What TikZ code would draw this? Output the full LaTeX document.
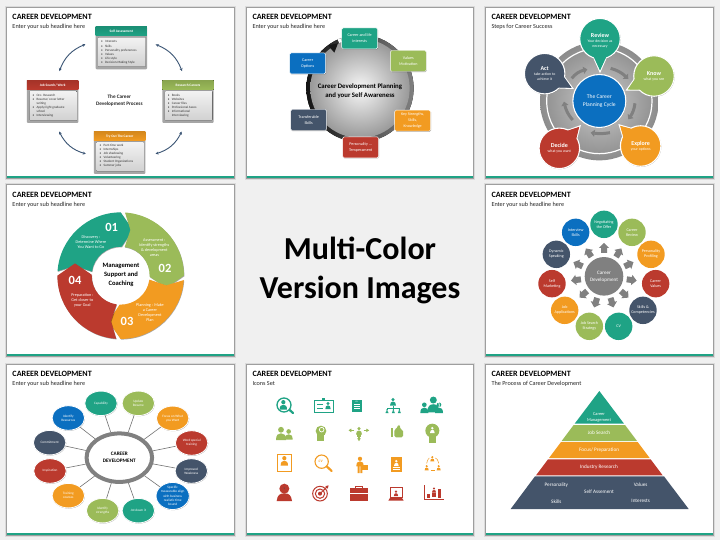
\documentclass[tikz,border=0pt]{standalone}
\usepackage{fontspec}
\setmainfont{Carlito}
\usetikzlibrary{arrows.meta,calc,shapes.geometric,shapes.arrows,shadows,bending}
\definecolor{tealc}{HTML}{1FA385}
\definecolor{olivec}{HTML}{9BBB59}
\definecolor{orangec}{HTML}{F29B21}
\definecolor{redc}{HTML}{BB3A2E}
\definecolor{navyc}{HTML}{44546A}
\definecolor{bluec}{HTML}{0B6FC0}
\definecolor{arrowc}{HTML}{3B5575}
\newcommand\fs[2]{\fontsize{#1}{#2}\selectfont}
\newcommand\bul{\makebox[4pt][l]{\textbullet}}
\newcommand\cnt{\hspace*{4pt}}
\tikzset{
  lbl/.style={inner sep=0pt,align=center,text=white,font=\fs{4.2}{5}},
  head/.style={inner sep=0pt,anchor=west,font=\bfseries\fs{8.1}{9},text=black},
  subh/.style={inner sep=0pt,anchor=west,font=\fs{6.2}{7},text=black!85},
  zoomed/.style={x=0.33333pt,y=-0.33333pt},
  cyc/.style={draw=arrowc,line width=0.9pt,{Stealth[length=3pt,width=3pt]}-{Stealth[length=3pt,width=3pt]}},
  softsh/.style={drop shadow={shadow xshift=0.4pt,shadow yshift=-0.6pt,opacity=0.35,fill=black}},
  rbox/.style={rounded corners=1.5pt,minimum width=36pt,minimum height=21pt,draw=white,line width=0.4pt,inner sep=0pt,align=center,text=white,font=\fs{4.1}{6.2},softsh},
  bub5/.style={circle,minimum size=27.4pt,inner sep=0pt,align=center,text=white,font=\fs{4.05}{5}},
  bub6/.style={ellipse,minimum width=32.5pt,minimum height=24.5pt,inner sep=0pt,draw=white,line width=0.8pt,align=center,text=white,font=\fs{3.4}{4.2},softsh},
  thickarc/.style={draw=black!50,line width=3pt,-{Triangle[length=4pt,width=7pt,flex]}},
  spoke/.style={draw=black!55,line width=0.6pt},
}
% panel frame
\newcommand\panel[4]{%
  \fill[black!14] (#1-2.2,#2-2.2) rectangle (#3+2.2,#4+2.2);
  \fill[black!38] (#1-1,#2-1) rectangle (#3+1,#4+1);
  \fill[white] (#1,#2) rectangle (#3,#4);
  \fill[tealc] (#1,#4-2) rectangle (#3,#4);}
% box of panel 1
\newcommand\cbox[7]{%
  \node[rounded corners=1pt,fill=black!35,minimum width=51.4pt,minimum height={(#5-#3)/3*1pt},inner sep=0pt] (#1) at ({#2+77},{(#3+#5)/2}) {};
  \fill[rounded corners=0.8pt,top color=black!5,bottom color=black!18] (#2+8,#4+4) rectangle (#2+150,#5-8);
  \fill[top color=#6!88!black,bottom color=#6] (#2,#3) rectangle (#2+154,#4);
  \node[lbl,font=\bfseries\fs{3.5}{4}] (#1t) at ({#2+77},{(#3+#4)/2}) {#7};}
\newcommand\citems[3]{\node[inner sep=0pt,anchor=north west,align=left,text=black!80,font=\fs{3.3}{4.1}] (#3) at (#1) {#2};}
% bubble with a tail
\newcommand\tailbub[7]{%
  \coordinate (#1c) at (#2,#3);
  \coordinate (#1tip) at (#5);
  \filldraw[draw=white,line width=1.3pt,fill=#4] ($(#1c)!18pt!24:(#1tip)$) -- (#1tip) -- ($(#1c)!18pt!-24:(#1tip)$) -- cycle;
  \node[circle,minimum size=40.5pt,inner sep=0pt,draw=white,line width=1.1pt,fill=#4,align=center,text=white,font=\fs{3.85}{5.1},softsh] (#1) at (#1c) {#6\\#7};
  \filldraw[draw=none,fill=#4] ($(#1c)!18pt!23:(#1tip)$) -- ($(#1tip)!1.2pt!(#1c)$) -- ($(#1c)!18pt!-23:(#1tip)$) -- cycle;}
\newcommand\bt[1]{{\bfseries\fs{6}{7}#1}}
% small person icon
\newcommand\pers[4]{\begin{scope}[shift={(#1,#2)},scale=#3]
  \fill[#4] (0,-1.05) circle[radius=.58];
  \fill[#4] (-1,1) .. controls (-1,0) and (-.6,-.35) .. (0,-.35) .. controls (.6,-.35) and (1,0) .. (1,1) -- cycle;
\end{scope}}
\begin{document}
\begin{tikzpicture}[x=1pt,y=-1pt]
\useasboundingbox (0,0) rectangle (720,540);
\fill[black!6] (0,0) rectangle (720,540);
\panel{7}{8}{234}{178}\panel{247}{8}{473}{178}\panel{486}{8}{713}{178}
\panel{7}{185}{234}{356}\panel{486}{185}{713}{356}
\panel{7}{365}{234}{535}\panel{247}{365}{473}{535}\panel{486}{365}{713}{535}
% titles
\foreach \xx/\yy/\sub [count=\i] in {12.3/17/Enter your sub headline here,252.3/17/Enter your sub headline here,491.3/17/Steps for Career Success,12.3/195/Enter your sub headline here,491.3/195/Enter your sub headline here,12.3/374/Enter your sub headline here,252.3/374/Icons Set,491.3/374/The Process of Career Development}{
  \node[head] (title\i) at (\xx,\yy) {CAREER DEVELOPMENT};
  \node[subh] (sub\i) at (\xx,\yy+10) {\sub};
}
% centre text
\node[inner sep=0pt,align=center,font=\bfseries\fs{32}{39},text=black] (multi) at (360,270) {Multi-Color\\Version Images};
%
% PANEL 1
\begin{scope}[shift={(0,0)},zoomed]
\cbox{sa}{287}{80}{108}{208}{tealc}{Self Assessment}
\citems{303,122}{\bul Interests\\\bul Skills\\\bul Personality preferences\\\bul Values\\\bul Life style\\\bul Decision-Making Style}{sai}
\cbox{rc}{487}{241}{269}{369}{olivec}{Research Careers}
\citems{503,282}{\bul Books\\\bul Websites\\\bul Career files\\\bul Professional Assoc.\\\bul Informational\\\cnt Interviewing}{rci}
\cbox{js}{81}{241}{269}{369}{redc}{Job Search/ Work}
\citems{97,282}{\bul Occ. Research\\\bul Resume/ cover letter\\\cnt writing\\\bul Apply/right graduate\\\cnt school\\\bul Interviewing}{jsi}
\cbox{to}{282}{395}{422}{522}{orangec}{Try Out The Career}
\citems{298,432}{\bul Part-time work\\\bul Internships\\\bul Job shadowing\\\bul Volunteering\\\bul Student Organizations\\\bul Summer jobs}{toi}
\node[inner sep=0pt,align=center,text=black!85,font=\bfseries\fs{5.2}{7.3}] (cdp) at (358,301) {The Career\\Development Process};
\draw[cyc] ([xshift=-10pt,yshift=3.7pt]sa.west) to[bend right=25] ([xshift=6.7pt,yshift=9pt]js.north);
\draw[cyc] ([xshift=8.5pt,yshift=3.5pt]sa.east) to[bend left=25] ([xshift=-6pt,yshift=9pt]rc.north);
\draw[cyc] ([xshift=6.5pt,yshift=-8.3pt]js.south) to[bend right=25] ([xshift=-8pt,yshift=-1pt]to.west);
\draw[cyc] ([xshift=-6.3pt,yshift=-8.3pt]rc.south) to[bend left=25] ([xshift=10pt,yshift=-1pt]to.east);
\end{scope}
%
% PANEL 2
\begin{scope}[shift={(240,0)},zoomed]
\fill[left color=black!92,right color=black!50] (360,265) circle[radius=161];
\draw[white,line width=3pt] (302,128) -- (297,116);
\shade[inner color=black!3,outer color=black!40] (360,265) circle[radius=149];
\fill[black!90] (294,130) -- (264,136) -- (283,158) -- cycle;
\node[inner sep=0pt,align=center,text=black,font=\bfseries\fs{6.8}{9}] (cdplan) at (360,272) {Career Development Planning\\and your Self Awareness};
\node[rbox,fill=tealc] (b1) at (359,115) {Career and life\\interests};
\node[rbox,fill=olivec] (b2) at (505,183) {Values\\Motivation};
\node[rbox,fill=orangec,font=\fs{4}{6}] (b3) at (518,362) {Key Strengths,\\Skills,\\Knowledge};
\node[rbox,fill=redc] (b4) at (362,442) {Personality ...\\Temperament};
\node[rbox,fill=navyc] (b5) at (206,360) {Transferable\\Skills};
\node[rbox,fill=bluec] (b6) at (203,190) {Career\\Options};
\end{scope}
%
% PANEL 3
\begin{scope}[shift={(480,0)},zoomed]
\shade[inner color=black!20,outer color=black!45] (358,303) circle[radius=178];
\shade[inner color=black!20,outer color=black!42] (358,303) circle[radius=157];
\draw[white,line width=1.2pt] (358,303) circle[radius=158];
\foreach \ax/\ay/\bx/\by/\bd in {275/235/322/208/20,392/205/445/237/15,465/310/445/358/15,390/398/332/398/10,278/360/252/305/15}{
  \draw[thickarc] (\ax,\ay) to[bend left=\bd] (\bx,\by);
}
\tailbub{rev}{360}{116}{tealc}{360,215}{\bt{\rule{0pt}{9pt}Review}}{Your decision as\\necessary}
\tailbub{kno}{522}{228}{olivec}{440,270}{\bt{Know}}{what you see}
\tailbub{exp}{482}{438}{orangec}{418,375}{\bt{Explore}}{your options}
\tailbub{dec}{238}{445}{redc}{300,378}{\bt{Decide}}{what you want}
\tailbub{act}{194}{221}{navyc}{278,265}{\bt{Act}}{take action to\\achieve it}
\node[circle,fill=bluec,draw=white,line width=1.1pt,minimum size=53pt,inner sep=0pt,align=center,text=white,font=\fs{5.6}{7.6},softsh] (cycle) at (358,303) {The Career\\Planning Cycle};
\end{scope}
%
% PANEL 4
\begin{scope}[shift={(0,180)},zoomed]
\begin{scope}[shift={(362,287)},x=1pt,y=1pt]
\foreach \k/\cc in {0/tealc,1/olivec,2/orangec,3/redc}{
 \begin{scope}[rotate=-90*\k]
  \fill[\cc,softsh] (176:63.3pt) arc[start angle=176,end angle=90,radius=63.3pt] -- (75:47.3pt) -- (88:29pt) arc[start angle=88,end angle=172,radius=29pt] -- (168:46.7pt) -- cycle;
 \end{scope}
}
\end{scope}
\foreach \xx/\yy/\nn [count=\i] in {335/142/01,495/265/02,381/425/03,225/302/04}{
  \node[lbl,font=\bfseries\fs{12.5}{14}] (num\i) at (\xx,\yy) {\nn};
}
\node[lbl] (t1) at (273,186) {Discovery :\\Determine Where\\You Want to Go};
\node[lbl] (t2) at (463,202) {Assessment :\\Identify strengths\\\& development\\areas};
\node[lbl] (t3) at (450,399) {Planning : Make\\a Career\\Development\\Plan};
\node[lbl] (t4) at (247,362) {Preparation :\\Get closer to\\your Goal};
\node[lbl,text=black,font=\bfseries\fs{6.6}{9}] (mgmt) at (363,284) {Management\\Support and\\Coaching};
\end{scope}
%
% PANEL 5
\begin{scope}[shift={(480,180)},zoomed]
\node[circle,fill=black!50,minimum size=38.6pt,inner sep=0pt,align=center,text=white,font=\fs{5.1}{7}] (cd) at (372,289) {Career\\Development};
\foreach \xx/\yy/\cc/\tx [count=\i] in {372/133/tealc/{Negotiating\\the Offer},456/157/olivec/{Career\\Review},513/223/orangec/{Personality\\Profiling},527/311/redc/{Career\\Values},489/391/navyc/{Skills \&\\Competencies},416/439/tealc/{CV},328/439/olivec/{Job Search\\Strategy},254/391/orangec/{Job\\Applications},216/311/redc/{Self\\Marketing},229/223/navyc/{Dynamic\\Speaking},287/157/bluec/{Interview\\Skills}}{
  \node[bub5,fill=\cc] (c\i) at (\xx,\yy) {\tx};
}
\foreach \xx/\yy in {372/204,416/218,447/253,455/300,434/343,396/368,347/368,310/343,288/300,294/253,326/218}{
  \pgfmathsetmacro\ang{atan2(289-\yy,\xx-372)}
  \begin{scope}[shift={(\xx,\yy)},rotate=\ang,x=1pt,y=1pt]
    \fill[black!50] (-5,-3) -- (0,-3) -- (0,-5.2) -- (5,0) -- (0,5.2) -- (0,3) -- (-5,3) -- cycle;
  \end{scope}
}
\end{scope}
%
% PANEL 6
\begin{scope}[shift={(0,360)},zoomed]
\node[ellipse,draw=black!50,line width=4pt,fill=white,minimum width=65.5pt,minimum height=48.5pt,inner sep=0pt,align=center,text=black,font=\bfseries\fs{5.2}{7}] (ring) at (358,293) {CAREER\\DEVELOPMENT};
\foreach \xx/\yy/\cc/\tx [count=\i] in {303/130/tealc/{Capability},415/130/olivec/{Update\\Resume},518/175/orangec/{Focus on What\\you Want},575/249/redc/{Word special\\training},574/333/navyc/{Improved\\Weakness},518/408/bluec/{Specific\\measurable align\\with business\\realistic time\\bound},415/452/tealc/{Jot down it},308/452/olivec/{Identify\\strengths},205/407/orangec/{Training\\courses},150/333/redc/{Inspiration},149/248/navyc/{Commitment},205/174/bluec/{Identify\\Resources}}{
  \node[bub6,fill=\cc] (e\i) at (\xx,\yy) {\tx};
  \draw[spoke] (ring) -- (e\i);
}
\end{scope}
%
% PANEL 7: icons
\begin{scope}[shift={(240,360)},zoomed]
% row 1
\draw[tealc,line width=1.3pt] (132,135) circle[radius=21];
\draw[tealc,line width=2.2pt,line cap=round] (149,150) -- (159,159);
\pers{130}{138}{11}{tealc}
\draw[tealc,line width=1pt] (224,120) rectangle (280,157);
\fill[tealc] (247,114) rectangle (256,122);
\draw[tealc,line width=1pt] (232,134) -- (250,134) (232,144) -- (250,144);
\pers{264}{139}{8}{tealc}
\fill[tealc] (336,119) rectangle (366,156);
\draw[white,line width=0.4pt] (342,134) -- (360,134) (342,140) -- (360,140) (342,146) -- (360,146);
\node[lbl,font=\bfseries\fs{2}{2}] (cv1) at (350,126) {CV};
\pers{459}{128}{9}{tealc}
\draw[tealc,line width=0.5pt] (459,138) -- (459,144) (441,150) -- (441,144) -- (478,144) -- (478,150) (459,144) -- (459,150);
\pers{441}{155}{4.5}{tealc}\pers{460}{155}{4.5}{tealc}\pers{478}{155}{4.5}{tealc}
\pers{553}{147}{12}{tealc}\pers{597}{147}{12}{tealc}
\draw[white,line width=0.8pt] (580,136) circle[radius=18];
\pers{580}{139}{18}{tealc}
% row 2
\pers{123}{225}{15}{olivec}
\pers{146}{227}{12}{olivec}
\fill[olivec] (243,213) circle[radius=16];
\fill[olivec] (232,224) rectangle (251,243);
\draw[white,line width=0.7pt] (245,209) circle[radius=7];
\pers{357}{215}{9}{olivec}
\fill[olivec] (351,222) rectangle (363,232);
\draw[olivec,line width=1.6pt,-{Latex[length=3pt,width=4pt]}] (342,211) -- (325,211);
\draw[olivec,line width=1.6pt,-{Latex[length=3pt,width=4pt]}] (371,211) -- (388,211);
\draw[olivec,line width=1.6pt,-{Latex[length=3pt,width=4pt]}] (357,232) -- (357,244);
\fill[olivec] (453,205) rectangle (460,231);
\fill[olivec,rounded corners=1.5pt] (463,208) -- (470,207) -- (474,194) -- (481,196) -- (480,208) -- (489,209) -- (489,232) -- (463,232) -- cycle;
\fill[olivec] (577,212) circle[radius=21];
\fill[olivec] (566,228) rectangle (588,248);
\pers{577}{212}{7}{white}
% row 3
\draw[orangec,line width=0.9pt] (112,282) rectangle (154,335);
\pers{133}{306}{11}{orangec}
\draw[orangec,line width=1.1pt] (245,305) circle[radius=20];
\draw[orangec,line width=2.2pt,line cap=round] (260,319) -- (275,333);
\node[inner sep=0pt,text=orangec,font=\bfseries\itshape\fs{3.5}{4}] (cv2) at (242,305) {CV};
\pers{360}{308}{11}{orangec}
\fill[orangec] (353,318) rectangle (359,339) (361,318) rectangle (367,339);
\fill[orangec] (365,315) rectangle (385,331);
\fill[orangec] (452,290) rectangle (486,335);
\pers{469}{311}{7}{white}
\draw[white,line width=0.4pt] (458,322) -- (480,322) (458,328) -- (480,328);
\pers{577}{298}{6}{orangec}
\pers{560}{325}{6}{orangec}
\pers{596}{325}{6}{orangec}
\draw[orangec,line width=0.5pt] (560,310) .. controls (563,298) and (566,295) .. (568,294);
\draw[orangec,line width=0.5pt] (596,310) .. controls (593,298) and (590,295) .. (586,294);
\draw[orangec,line width=0.5pt] (572,331) -- (584,331);
% row 4
\fill[redc] (133,386) circle[radius=15];
\node[inner sep=0pt,text=black!70,font=\fs{3}{3}] (dollar) at (133,386) {\$};
\fill[redc] (110,423) .. controls (112,405) and (120,400) .. (133,400) .. controls (146,400) and (154,405) .. (156,423) -- cycle;
\draw[redc,line width=1pt] (240,401) circle[radius=22];
\draw[redc,line width=1pt] (240,401) circle[radius=14];
\fill[redc] (240,401) circle[radius=6];
\draw[redc,line width=1pt,-{Latex[length=3pt,width=4pt]}] (240,401) -- (266,376);
\draw[redc,line width=0.8pt] (347,385) -- (347,380) -- (367,380) -- (367,385);
\fill[redc] (330,385) rectangle (384,422);
\draw[white,line width=0.3pt] (330,400) -- (384,400);
\draw[redc,line width=0.8pt] (450,382) rectangle (486,412);
\pers{468}{402}{6.5}{redc}
\fill[redc] (445,422) -- (451,412) -- (485,412) -- (491,422) -- cycle;
\draw[redc,line width=0.5pt] (552,376) -- (552,418) -- (613,418);
\fill[redc] (562,402) rectangle (570,415);
\fill[redc] (594,388) rectangle (602,415);
\pers{582}{392}{6}{redc}
\fill[redc] (577,398) rectangle (587,412);
\end{scope}
%
% PANEL 8
\begin{scope}[shift={(480,360)},zoomed]
\fill[tealc] (358,93) -- (432,191) -- (284,191) -- cycle;
\fill[olivec] (281,195) -- (435,195) -- (471,243) -- (245,243) -- cycle;
\fill[orangec] (243,246) -- (473,246) -- (509,294) -- (207,294) -- cycle;
\fill[redc] (204,298) -- (512,298) -- (548,346) -- (168,346) -- cycle;
\fill[navyc] (165,349) -- (552,349) -- (626,447) -- (92,447) -- cycle;
\tikzset{pyr/.style={lbl,font=\fs{5.2}{6.3}}}
\node[pyr,font=\fs{4.4}{5.6}] (p1) at (357,173) {Career\\Management};
\node[pyr] (p2) at (357,218) {Job Search};
\node[pyr] (p3) at (357,270) {Focus/ Preparation};
\node[pyr] (p4) at (357,321) {Industry Research};
\node[pyr] (p5) at (229,374) {Personality};
\node[pyr] (p6) at (482,374) {Values};
\node[pyr] (p7) at (357,396) {Self Assement};
\node[pyr] (p8) at (229,424) {Skills};
\node[pyr] (p9) at (482,424) {Interests};
\end{scope}
\end{tikzpicture}
\end{document}
